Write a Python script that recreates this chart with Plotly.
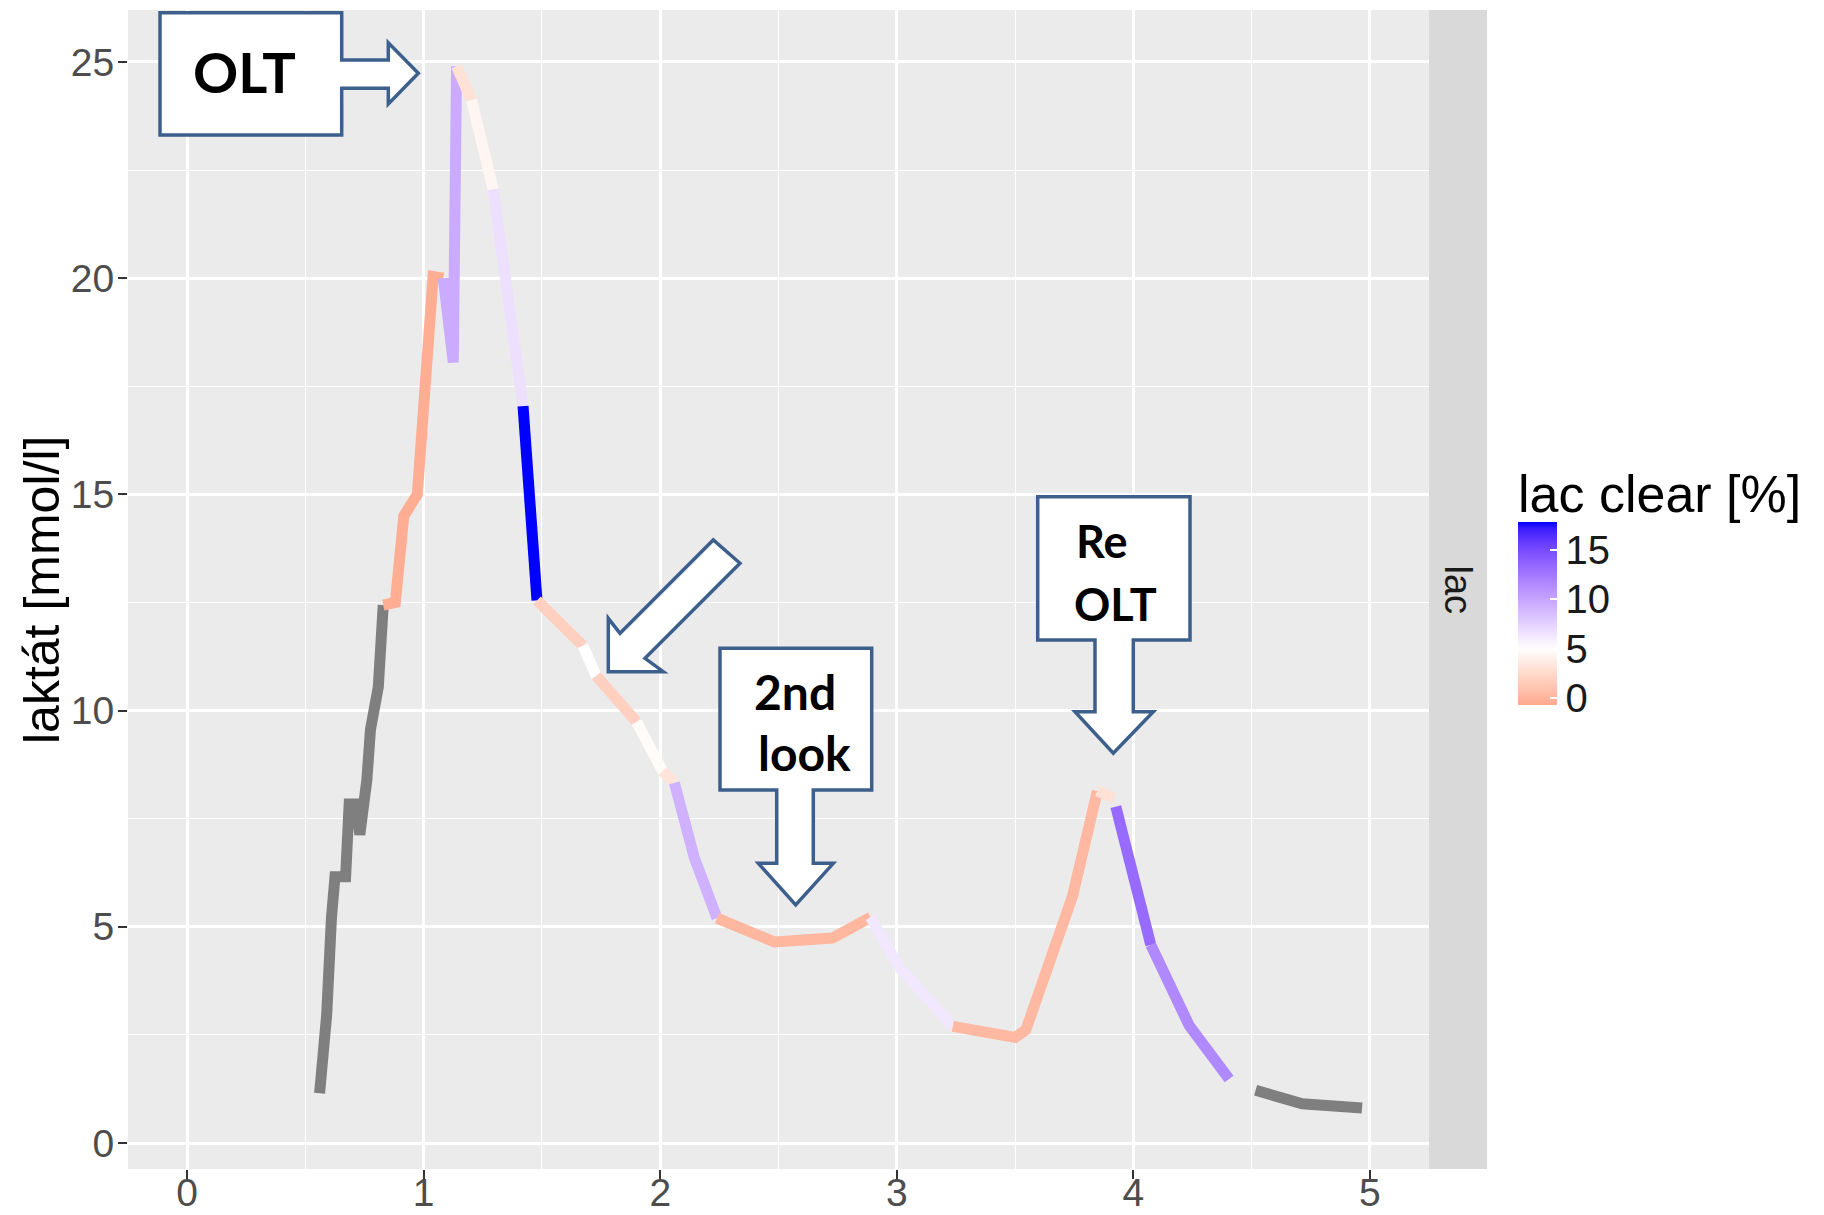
import plotly.graph_objects as go

# ---------------- data ----------------
time = [0.56, 0.59, 0.61, 0.625, 0.67, 0.685, 0.715, 0.73, 0.76, 0.775, 0.808, 0.829,
        0.88, 0.916, 0.973, 1.04, 1.083, 1.125, 1.139, 1.202, 1.294, 1.42, 1.479,
        1.673, 1.73, 1.9, 2.01, 2.06, 2.144, 2.24, 2.483, 2.728, 2.889, 3.01, 3.237,
        3.5, 3.546, 3.645, 3.743, 3.848, 3.919,
        3.926, 4.074, 4.236, 4.405,
        4.517, 4.714, 4.967]
lactate = [1.15, 2.97, 5.2, 6.16, 6.16, 7.84, 7.84, 7.13, 8.41, 9.56, 10.54, 12.44,
           12.5, 14.5, 15.0, 20.04, 20.0, 18.05, 24.9, 24.12, 22.05, 17.04, 12.55,
           11.5, 10.8, 9.74, 8.6, 8.33, 6.6, 5.2, 4.65, 4.74, 5.22, 4.07, 2.7,
           2.44, 2.62, 4.16, 5.71, 8.14, 7.98,
           7.78, 4.58, 2.72, 1.48,
           1.22, 0.91, 0.81]
# lactate clearance [%] of the segment starting at each point (None = NA)
clearance = [None, None, None, None, None, None, None, None, None, None, None, -0.4,
             -0.4, -0.4, -0.4, -0.4, 9.6, 9.6, 3.0, 4.4, 6.7, 17.8, 1.8,
             5.0, 1.8, 4.7, 3.2, 9.3, 9.3, 0.2, 0.2, 0.2, 6.3, 6.3, 0.3,
             0.3, 0.3, 0.3, 0.3, 3.0, None,
             13.2, 11.5, 11.5, None,
             None, None, None]
group = [1] * 41 + [2] * 4 + [3] * 3

clear_min, clear_mid, clear_max = -0.7, 5.0, 17.8
clear_ticks = [0, 5, 10, 15]
x_ticks = [0, 1, 2, 3, 4, 5]
y_ticks = [0, 5, 10, 15, 20, 25]

# ---------------- colour scale (gradient2 red-white-blue, Lab) ----------------
def _lin(v):
    v = v / 255.0
    return v / 12.92 if v <= 0.04045 else ((v + 0.055) / 1.055) ** 2.4

def _gam(v):
    v = 12.92 * v if v <= 0.0031308 else 1.055 * v ** (1 / 2.4) - 0.055
    return max(0, min(255, round(v * 255)))

def to_lab(rgb):
    r, g, b = [_lin(c) for c in rgb]
    X = (0.4124 * r + 0.3576 * g + 0.1805 * b) / 0.95047
    Y = (0.2126 * r + 0.7152 * g + 0.0722 * b)
    Z = (0.0193 * r + 0.1192 * g + 0.9505 * b) / 1.08883
    f = lambda t: t ** (1 / 3) if t > 0.008856 else 7.787 * t + 16 / 116
    return (116 * f(Y) - 16, 500 * (f(X) - f(Y)), 200 * (f(Y) - f(Z)))

def from_lab(lab):
    L, a, b = lab
    fy = (L + 16) / 116
    fx = fy + a / 500
    fz = fy - b / 200
    fi = lambda t: t ** 3 if t ** 3 > 0.008856 else (t - 16 / 116) / 7.787
    X, Y, Z = fi(fx) * 0.95047, fi(fy), fi(fz) * 1.08883
    r = 3.2406 * X - 1.5372 * Y - 0.4986 * Z
    g = -0.9689 * X + 1.8758 * Y + 0.0415 * Z
    bb = 0.0557 * X - 0.2040 * Y + 1.0570 * Z
    return (_gam(r), _gam(g), _gam(bb))

LOW, MID, HIGH = to_lab((255, 0, 0)), to_lab((255, 255, 255)), to_lab((0, 0, 255))
span = max(abs(clear_min - clear_mid), abs(clear_max - clear_mid))

def grad(v):
    t = (v - clear_mid) / (2 * span) + 0.5
    if t <= 0.5:
        a, b, f = LOW, MID, t / 0.5
    else:
        a, b, f = MID, HIGH, (t - 0.5) / 0.5
    f = max(0.0, min(1.0, f))
    c = from_lab(tuple(a[i] + (b[i] - a[i]) * f for i in range(3)))
    return "rgb(%d,%d,%d)" % c

N = 30
colorscale = [[k / N, grad(clear_min + (clear_max - clear_min) * k / N)] for k in range(N + 1)]
NA_COLOR = "#7F7F7F"

# ---------------- figure ----------------
W, H = 1824, 1215
PL, PR, PT, PB = 128, 1429, 10, 1169

def px(x):
    return (x - PL) / (PR - PL)

def py(y):
    return (PB - y) / (PB - PT)

fig = go.Figure()

# build runs of equal colour within each group
runs = []
for i in range(len(time) - 1):
    if group[i] != group[i + 1]:
        continue
    col = NA_COLOR if clearance[i] is None else grad(clearance[i])
    if runs and runs[-1]["end"] == i and runs[-1]["col"] == col:
        runs[-1]["idx"].append(i + 1)
        runs[-1]["end"] = i + 1
    else:
        runs.append({"idx": [i, i + 1], "end": i + 1, "col": col})

for r in runs:
    fig.add_trace(go.Scatter(
        x=[time[k] for k in r["idx"]], y=[lactate[k] for k in r["idx"]],
        mode="lines", line=dict(color=r["col"], width=11),
        hoverinfo="skip", showlegend=False))

# colour bar carrier
cv = [(t, l, c) for t, l, c in zip(time, lactate, clearance) if c is not None]
fig.add_trace(go.Scatter(
    x=[a[0] for a in cv], y=[a[1] for a in cv], mode="markers",
    marker=dict(size=1, opacity=0, color=[a[2] for a in cv], colorscale=colorscale,
                cmin=clear_min, cmax=clear_max, showscale=True,
                colorbar=dict(
                    thickness=39, thicknessmode="pixels", len=183, lenmode="pixels",
                    x=px(1518), xanchor="left", y=py(522), yanchor="top",
                    xpad=0, ypad=0, outlinewidth=0,
                    tickvals=clear_ticks, ticks="inside", ticklen=7, tickcolor="white",
                    tickwidth=2,
                    tickfont=dict(family="Liberation Sans", size=40, color="#1A1A1A"))),
    hoverinfo="skip", showlegend=False))

axis_common = dict(
    showgrid=True, gridcolor="white", gridwidth=2.5, zeroline=False, showline=False,
    ticks="outside", ticklen=9, tickwidth=2, tickcolor="#333333", automargin=False,
    tickfont=dict(family="Liberation Sans", size=39, color="#4D4D4D"),
)
fig.update_xaxes(range=[-0.25, 5.25], tickvals=x_ticks, ticklabelstandoff=-20, **axis_common,
                 minor=dict(dtick=0.5, tick0=0.5, showgrid=True, gridcolor="white",
                            gridwidth=1.2, ticks=""))
fig.update_yaxes(range=[-0.6, 26.2], tickvals=y_ticks, ticklabelstandoff=-4, **axis_common,
                 minor=dict(dtick=5, tick0=2.5, showgrid=True, gridcolor="white",
                            gridwidth=1.2, ticks=""))

shapes = []
# facet strip
shapes.append(dict(type="rect", xref="paper", yref="paper", x0=1.0, x1=px(1487),
                   y0=0, y1=1, fillcolor="#D9D9D9", line=dict(width=0), layer="below"))

def poly(pts):
    s = "M " + " L ".join("%.5f,%.5f" % (px(a), py(b)) for a, b in pts) + " Z"
    return dict(type="path", xref="paper", yref="paper", path=s,
                fillcolor="white", line=dict(color="#3C5F8C", width=3.5), layer="above")

# OLT callout (right arrow)
shapes.append(poly([(160, 12.7), (341.7, 12.7), (341.7, 60), (388.3, 60), (388.3, 42.7),
                    (418.3, 73.3), (388.3, 104), (388.3, 88.3), (341.7, 88.3),
                    (341.7, 135), (160, 135)]))
# diagonal arrow
shapes.append(poly([(608.3, 671.7), (608.3, 618.3), (620, 633.3), (713.3, 540),
                    (740, 563.3), (645, 658.3), (663.3, 671.7)]))
# 2nd look callout
shapes.append(poly([(720, 648.3), (871.7, 648.3), (871.7, 790), (813.3, 790), (813.3, 863.3),
                    (833.3, 863.3), (795.7, 905), (758.3, 863.3), (776.7, 863.3),
                    (776.7, 790), (720, 790)]))
# Re OLT callout
shapes.append(poly([(1037.7, 496.7), (1190, 496.7), (1190, 640), (1133.3, 640), (1133.3, 711.7),
                    (1153.3, 711.7), (1113.3, 753.3), (1075, 711.7), (1095, 711.7),
                    (1095, 640), (1037.7, 640)]))

def label(text, x, y, size):
    return dict(text=text, xref="paper", yref="paper", x=px(x), y=py(y),
                xanchor="center", yanchor="middle", showarrow=False,
                font=dict(family="Lato", size=size, color="black", weight="bold"))

annotations = [
    label("OLT", 244, 71, 56),
    label("2nd", 795, 691, 48),
    label("look", 804, 752, 48),
    label("Re", 1101, 541, 45),
    label("OLT", 1115, 604, 45),
    dict(text="laktát [mmol/l]", xref="paper", yref="paper", x=px(41.5), y=0.5,
         xanchor="center", yanchor="middle", textangle=-90, showarrow=False,
         font=dict(family="Liberation Sans", size=50, color="black")),
    dict(text="lac", xref="paper", yref="paper", x=px(1458), y=0.5,
         xanchor="center", yanchor="middle", textangle=90, showarrow=False,
         font=dict(family="Liberation Sans", size=38, color="#1A1A1A")),
    dict(text="lac clear [%]", xref="paper", yref="paper", x=px(1516), y=py(494),
         xanchor="left", yanchor="middle", showarrow=False,
         font=dict(family="Liberation Sans", size=52, color="black")),
]

fig.update_layout(
    width=W, height=H,
    margin=dict(l=PL, r=W - PR, t=PT, b=H - PB, pad=0, autoexpand=False),
    paper_bgcolor="white", plot_bgcolor="#EBEBEB",
    shapes=shapes, annotations=annotations, showlegend=False,
)

fig.write_html("out.html")
